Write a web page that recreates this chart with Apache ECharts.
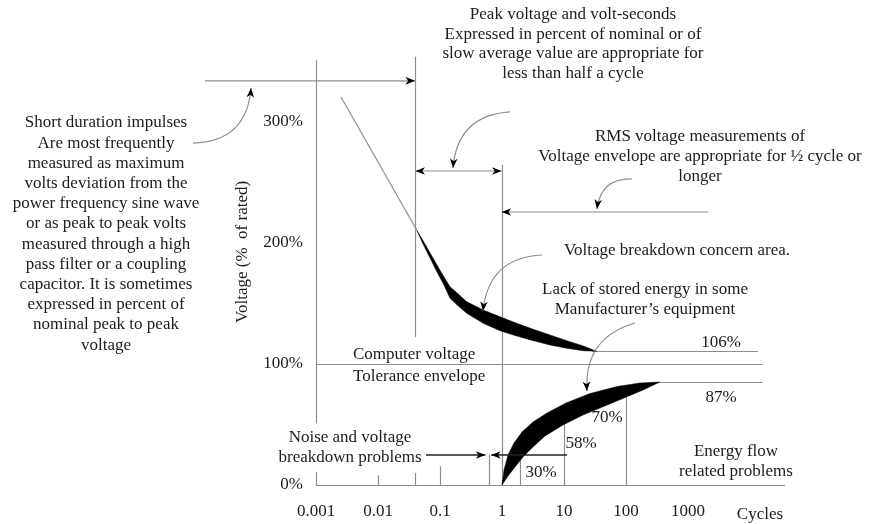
<!DOCTYPE html>
<html>
<head>
<meta charset="utf-8">
<title>Computer voltage tolerance envelope</title>
<script src="https://cdn.jsdelivr.net/npm/echarts/dist/echarts.min.js"></script>
<style>html,body{margin:0;padding:0;background:#fff}#chart{width:872px;height:524px}</style>
</head>
<body>
<div id="chart"></div>
<script>
// ---------------- data (x in cycles, y in % of rated) ----------------
const xTickLabels = ['0.001', '0.01', '0.1', '1', '10', '100', '1000'];
const yTickValues = [0, 100, 200, 300];

// straight reference / envelope lines: [from, to]
const guideLines = [
  [[0.001, 351], [0.001, 51]],
  [[0.001, 11], [0.001, 0]],
  [[0.01, 8], [0.01, 0]],
  [[0.04, 354], [0.04, 122.3]],
  [[0.04, 10], [0.04, 0]],
  [[0.1, 15.5], [0.1, 0]],
  [[0.62, 25], [0.62, 0]],
  [[1, 264.5], [1, 0]],
  [[2, 30], [2, 0]],
  [[10, 50], [10, 0]],
  [[100, 74], [100, 0]],
  [[0.001, 0], [36700, 0]],
  [[0.001, 100], [16000, 100]],
  [[28.3, 110.5], [13500, 110.5]],
  [[353, 85.1], [16000, 85.1]],
  [[0.00253, 320.7], [0.0421, 210.7]]
];

// straight arrows, head at the second point
const singleArrows = [
  [[1.62e-5, 334], [0.0395, 334]],
  [[2100, 225.6], [0.985, 225.6]],
  [[0.0594, 24.8], [0.54, 24.8]],
  [[11.2, 24.8], [0.67, 24.8]]
];
// arrow with heads at both ends
const doubleArrows = [
  [[0.0402, 259.5], [0.985, 259.5]]
];
// curved pointer arrows, head at the second point
const curvedArrows = [
  [[1.04e-5, 282.6], [8.95e-5, 328.1]],
  [[1.346, 308.3], [0.162, 262]],
  [[125, 252.9], [34, 228.1]],
  [[4.42, 190.1], [0.494, 143.8]],
  [[140, 133.9], [23.5, 77.7]]
];

// voltage breakdown concern area (upper band)
const concernUpper = [[0.0421,210.7],[0.0573,199.2],[0.0771,187.6],[0.1038,176],[0.145,163.9],[0.197,157.9],[0.270,151.5],[0.499,144.6],[0.928,139.1],[1.726,133.6],[3.198,128.7],[5.945,124],[11.05,119.3],[20.48,114.9],[33.7,110.5]];
const concernLower = [[0.0421,210.7],[0.0532,199.2],[0.069,187.6],[0.0895,176],[0.116,165.3],[0.145,154.3],[0.197,147.9],[0.270,141.9],[0.499,133.6],[0.928,127.5],[1.726,123.1],[3.198,119.3],[5.945,115.7],[11.05,113],[20.48,111],[33.7,110.5]];
// lack of stored energy area (lower crescent)
const storedOuter = [[1,0],[1.077,12.4],[1.25,24.8],[1.561,34.7],[2.102,43.8],[3.162,52.1],[5.319,59.5],[10.77,67.8],[26.27,75.6],[71.58,81.4],[168.2,84.3],[353,85.1]];
const storedInner = [[1,0],[1.25,7.4],[1.621,14.9],[2.182,23.1],[3.162,31.4],[4.938,40.5],[9.636,49.6],[20.25,57.9],[38.07,63.6],[92.85,71.9],[188,78.5],[353,85.1]];

// annotation texts
const noteImpulses = ['Short duration impulses','Are most frequently','measured as maximum','volts deviation from the','power frequency sine wave','or as peak to peak volts','measured through a high','pass filter or a coupling','capacitor. It is sometimes','expressed in percent of','nominal peak to peak','voltage'];
const notePeak = ['Peak voltage and volt-seconds','Expressed in percent of nominal or of','slow average value are appropriate for','less than half a cycle'];
const noteRms = ['RMS voltage measurements of','Voltage envelope are appropriate for \u00bd cycle or','longer'];
const noteConcern = ['Voltage breakdown concern area.'];
const noteStored = ['Lack of stored energy in some','Manufacturer\u2019s equipment'];
const noteEnvelope = ['Computer voltage','Tolerance envelope'];
const noteNoise = ['Noise and voltage','breakdown problems'];
const noteEnergy = ['Energy flow','related problems'];
const levelLabels = ['106%', '87%', '70%', '58%', '30%'];

// ---------------- layout / style ----------------
const W = 872, H = 524;
const X0 = 316, DEC = 62, Y0 = 485, PCT = 1.21;   // pixel of 0.001 cycles, px per decade, pixel of 0 %, px per %
const LINE = '#8e8e8e', INK = '#1c1c1c', DARK = '#222';
const FONT = '17px "Liberation Serif", "Times New Roman", serif';
const curveBend = [-0.45, -0.43, -0.45, -0.43, -0.4];
const singleArrowColor = [LINE, LINE, DARK, DARK];
const HEAD_LEN = 9.5, HEAD_HALF = 3.8;

const lg = v => Math.log10(v);
const pt = p => [lg(p[0]), p[1]];
// markLine item: pair of endpoints
const seg = (a, b) => [{ coord: pt(a) }, { coord: pt(b) }];

const gridAxisX = { min: -3, max: -3 + (W - 87 - X0) / DEC };
const fullX = { min: -3 - X0 / DEC, max: -3 + (W - X0) / DEC };
const fullY = { min: -(H - Y0) / PCT, max: Y0 / PCT };

const hiddenAxis = { show: false, type: 'value', gridIndex: 1, splitLine: { show: false } };

function txt(x, y, lines, o) {
  o = o || {};
  return {
    type: 'text', x: x, y: y, rotation: o.rot || 0, silent: true,
    style: { text: lines.join('\n'), fill: INK, font: FONT, align: o.align || 'center',
             verticalAlign: 'middle', lineHeight: o.lh || 20 }
  };
}

const bands = [
  concernUpper.concat(concernLower.slice().reverse()),
  storedOuter.concat(storedInner.slice().reverse())
];

const arrowItems = []
  .concat(singleArrows.map((a, i) => ({ from: a[0], to: a[1], bend: 0, both: false, color: singleArrowColor[i] })))
  .concat(doubleArrows.map(a => ({ from: a[0], to: a[1], bend: 0, both: true, color: LINE })))
  .concat(curvedArrows.map((a, i) => ({ from: a[0], to: a[1], bend: curveBend[i], both: false, color: LINE })));

function headShape(tip, back) {
  const dx = tip[0] - back[0], dy = tip[1] - back[1];
  const len = Math.sqrt(dx * dx + dy * dy) || 1;
  const ux = dx / len, uy = dy / len, nx = -uy, ny = ux;
  return {
    type: 'polygon',
    shape: { points: [
      [tip[0], tip[1]],
      [tip[0] - HEAD_LEN * ux + HEAD_HALF * nx, tip[1] - HEAD_LEN * uy + HEAD_HALF * ny],
      [tip[0] - 0.72 * HEAD_LEN * ux, tip[1] - 0.72 * HEAD_LEN * uy],
      [tip[0] - HEAD_LEN * ux - HEAD_HALF * nx, tip[1] - HEAD_LEN * uy - HEAD_HALF * ny]
    ] },
    style: { fill: '#000' }
  };
}

function renderArrow(params, api) {
  const it = arrowItems[params.dataIndex];
  const p1 = api.coord(pt(it.from)), p2 = api.coord(pt(it.to));
  const children = [];
  const lw = it.color === DARK ? 1.5 : 1.2;
  if (it.bend) {
    const cp = [(p1[0] + p2[0]) / 2 + it.bend * (p2[1] - p1[1]), (p1[1] + p2[1]) / 2 + it.bend * (p1[0] - p2[0])];
    children.push({ type: 'bezierCurve',
      shape: { x1: p1[0], y1: p1[1], x2: p2[0], y2: p2[1], cpx1: cp[0], cpy1: cp[1] },
      style: { stroke: it.color, lineWidth: lw, fill: 'none' } });
    children.push(headShape(p2, cp));
  } else {
    children.push({ type: 'line', shape: { x1: p1[0], y1: p1[1], x2: p2[0], y2: p2[1] },
      style: { stroke: it.color, lineWidth: lw } });
    children.push(headShape(p2, p1));
    if (it.both) children.push(headShape(p1, p2));
  }
  return { type: 'group', children: children };
}

const markBase = { silent: true, animation: false, label: { show: false }, emphasis: { disabled: true } };

const option = {
  animation: false,
  backgroundColor: '#fff',
  grid: [
    { left: X0, right: 87, top: Y0 - 400 * PCT, bottom: H - Y0 },
    { left: 0, right: 0, top: 0, bottom: 0 }
  ],
  xAxis: [
    { type: 'value', gridIndex: 0, min: gridAxisX.min, max: gridAxisX.max, interval: 1,
      axisLine: { show: false }, axisTick: { show: false }, splitLine: { show: false },
      axisLabel: { margin: 18, color: INK, fontSize: 17, fontFamily: 'Liberation Serif', showMaxLabel: false,
        formatter: v => { const r = Math.round(v); const i = r + 3; return (Math.abs(v - r) < 1e-6 && i >= 0 && i < xTickLabels.length) ? xTickLabels[i] : ''; } } },
    Object.assign({}, hiddenAxis, { min: fullX.min, max: fullX.max })
  ],
  yAxis: [
    { type: 'value', gridIndex: 0, min: 0, max: 400, interval: 100,
      axisLine: { show: false }, axisTick: { show: false }, splitLine: { show: false },
      axisLabel: { margin: 13, color: INK, fontSize: 17, fontFamily: 'Liberation Serif',
        formatter: v => yTickValues.indexOf(v) >= 0 ? v + '%' : '' } },
    Object.assign({}, hiddenAxis, { min: fullY.min, max: fullY.max })
  ],
  series: [
    { type: 'line', name: 'guides', xAxisIndex: 1, yAxisIndex: 1, data: [], silent: true,
      markLine: Object.assign({}, markBase, { symbol: 'none', lineStyle: { color: LINE, width: 1.2, type: 'solid' },
        data: guideLines.map(l => seg(l[0], l[1])) }) },
    { type: 'custom', name: 'areas', xAxisIndex: 1, yAxisIndex: 1, z: 8, silent: true,
      data: bands.map((b, i) => [0, 50 + i]),
      renderItem: (params, api) => ({
        type: 'polygon',
        shape: { points: bands[params.dataIndex].map(p => api.coord(pt(p))) },
        style: { fill: '#000', stroke: '#000', lineWidth: 0.5 }
      }) },
    { type: 'custom', name: 'arrows', xAxisIndex: 1, yAxisIndex: 1, z: 9, silent: true,
      data: arrowItems.map((a, i) => [0, 60 + i]),
      renderItem: renderArrow }
  ],
  graphic: [
    txt(106, 234, noteImpulses, { lh: 20.2 }),
    txt(573, 44, notePeak, { lh: 19.5 }),
    txt(700, 157, noteRms),
    txt(677, 251, noteConcern),
    txt(645, 300, noteStored),
    txt(353, 366, noteEnvelope, { align: 'left', lh: 22 }),
    txt(350, 448, noteNoise),
    txt(736, 462, noteEnergy),
    txt(721, 343, [levelLabels[0]]),
    txt(721, 398, [levelLabels[1]]),
    txt(607, 418, [levelLabels[2]]),
    txt(581, 444, [levelLabels[3]]),
    txt(541, 473, [levelLabels[4]]),
    txt(760, 515, ['Cycles']),
    txt(243, 252, ['Voltage (%  of rated)'], { rot: Math.PI / 2 })
  ]
};

const chart = echarts.init(document.getElementById('chart'), null, { renderer: 'canvas', width: W, height: H });
chart.setOption(option);
</script>
</body>
</html>
